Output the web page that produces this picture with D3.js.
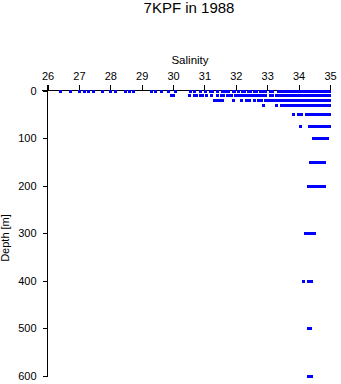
<!DOCTYPE html>
<html><head><meta charset="utf-8">
<script src="https://cdn.jsdelivr.net/npm/d3@7"></script>
<style>
body{margin:0;background:#fff;}
svg{display:block;font-family:"Liberation Sans",Arial,sans-serif;}
</style></head>
<body>
<svg id="c" width="341" height="384"></svg>
<script>
const title = "7KPF in 1988";
const xLabel = "Salinity";
const yLabel = "Depth [m]";
const salinityTicks = [26,27,28,29,30,31,32,33,34,35];
const depthTicks = [0,100,200,300,400,500,600];
const depths = [0,10,20,30,50,75,100,150,200,300,400,500,600];

const sal0 = [26.43,26.72,27.03,27.19,27.32,27.45,27.74,28.02,28.18,28.50,28.60,28.75,
  29.30,29.43,29.63,29.84,30.09,30.54,30.67,30.86,31.02,31.18,31.27,31.43,31.56,31.68,31.78,31.91,31.97,
  32.10,32.20,32.29,32.39,32.48,32.58,32.67,32.77,32.86,32.96,33.12,33.18,
  33.37,33.46,33.55,33.65,33.74,33.83,33.92,34.01,34.10,34.20,34.29,34.38,34.47,34.56,34.65,34.74,34.83,34.91,34.97];
const sal10 = [29.96,30.03,30.52,30.67,30.76,30.86,30.95,31.05,31.24,31.43,31.53,31.62,31.72,31.81,31.85,
  32.00,32.10,32.19,32.29,32.38,32.48,32.57,32.67,32.76,32.86,32.96,33.09,33.18,
  33.31,33.40,33.50,33.59,33.69,33.78,33.88,33.97,34.07,34.16,34.26,34.35,34.45,34.54,34.64,34.73,34.83,34.92,34.97];
const sal20 = [31.33,31.43,31.52,31.59,31.91,32.19,32.35,32.42,32.58,32.71,
  32.83,32.93,33.02,33.12,33.21,33.31,33.40,33.50,33.59,33.69,33.78,33.88,33.97,34.07,34.16,34.26,34.35,34.45,34.54,34.64,34.73,34.83,34.92,34.97];
const sal30 = [32.89,33.28,33.47,33.56,33.66,33.75,33.85,33.94,34.04,34.13,34.23,34.32,34.42,34.51,34.61,34.70,34.80,34.89,34.97];
const sal50 = [33.85,34.01,34.10,34.26,34.35,34.45,34.54,34.64,34.73,34.83,34.92,34.97];
const sal75 = [34.07,34.36,34.45,34.54,34.64,34.73,34.83,34.92,34.97];
const sal100 = [34.49,34.58,34.68,34.77,34.86,34.93];
const sal150 = [34.39,34.48,34.58,34.67,34.77,34.84];
const sal200 = [34.30,34.39,34.48,34.58,34.67,34.77,34.81];
const sal300 = [34.23,34.32,34.42,34.52];
const sal400 = [34.17,34.30,34.42];
const sal500 = [34.30,34.39];
const sal600 = [34.33,34.42];
const salByDepth = [sal0,sal10,sal20,sal30,sal50,sal75,sal100,sal150,sal200,sal300,sal400,sal500,sal600];

const points = [];
depths.forEach((d,i)=>salByDepth[i].forEach(s=>points.push({s,d})));

const svg = d3.select("#c");
const x = d3.scaleLinear().domain([26,35]).range([47.5,330]);
const y = d3.scaleLinear().domain([0,600]).range([90.5,375.5]);

svg.append("text").attr("x",189).attr("y",13).attr("text-anchor","middle")
  .attr("font-size",15).text(title);
svg.append("text").attr("x",190).attr("y",64).attr("text-anchor","middle")
  .attr("font-size",11.5).text(xLabel);
svg.append("text").attr("transform","translate(9,238) rotate(-90)").attr("text-anchor","middle")
  .attr("font-size",11).text(yLabel);

const xa = svg.append("g").attr("transform","translate(0,90.5)")
  .call(d3.axisTop(x).tickValues(salinityTicks).tickFormat(d3.format("d")).tickSize(6).tickSizeOuter(0).tickPadding(5));
const ya = svg.append("g").attr("transform","translate(47.5,0)")
  .call(d3.axisLeft(y).tickValues(depthTicks).tickFormat(d3.format("d")).tickSize(5).tickSizeOuter(0).tickPadding(6));
[xa,ya].forEach(g=>{
  g.selectAll("text").attr("font-family","'Liberation Sans',Arial,sans-serif").attr("font-size",11).attr("fill","#000");
  g.selectAll("line,path").attr("stroke","#000").attr("shape-rendering","crispEdges");
});
// extend axis lines across the corner like the reference
xa.select("path.domain").attr("d",`M${42},0H${330}`);
ya.select("path.domain").attr("d",`M0,${85}V${375.5}`);

svg.append("g").selectAll("rect").data(points).join("rect")
  .attr("x",p=>Math.round(x(p.s)-1.5))
  .attr("y",p=>Math.round(y(p.d))-1)
  .attr("width",3).attr("height",3)
  .attr("fill","#0000ff").attr("shape-rendering","crispEdges");
</script>
</body></html>
